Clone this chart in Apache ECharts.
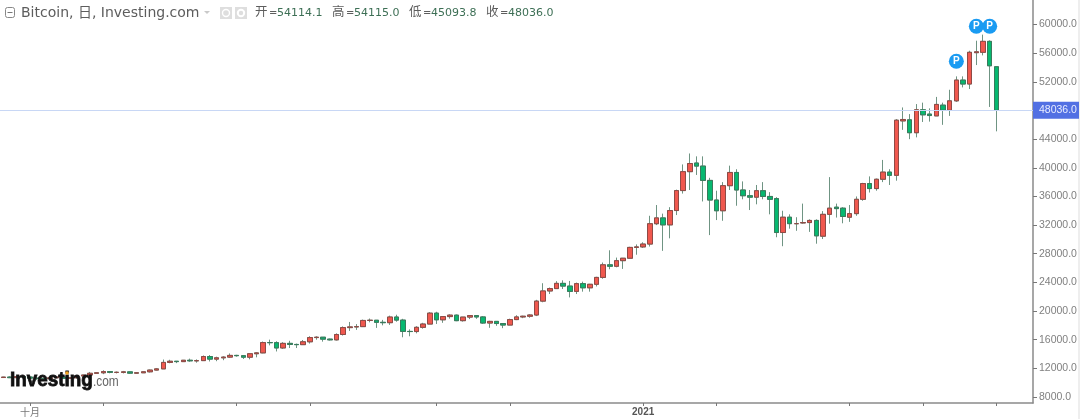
<!DOCTYPE html>
<html><head><meta charset="utf-8">
<style>html,body{margin:0;padding:0;background:#fff}#c{width:1080px;height:419px}</style>
<script src="https://cdn.jsdelivr.net/npm/echarts@6/dist/echarts.min.js"></script>
</head><body><div id="c"></div>
<script>
const categories=["09-27","09-28","09-29","09-30",
"10-01","10-02","10-03","10-04","10-05","10-06","10-07","10-08","10-09","10-10","10-11","10-12","10-13","10-14","10-15","10-16","10-17","10-18","10-19","10-20","10-21","10-22","10-23","10-24","10-25","10-26","10-27","10-28","10-29","10-30","10-31",
"11-01","11-02","11-03","11-04","11-05","11-06","11-07","11-08","11-09","11-10","11-11","11-12","11-13","11-14","11-15","11-16","11-17","11-18","11-19","11-20","11-21","11-22","11-23","11-24","11-25","11-26","11-27","11-28","11-29","11-30",
"12-01","12-02","12-03","12-04","12-05","12-06","12-07","12-08","12-09","12-10","12-11","12-12","12-13","12-14","12-15","12-16","12-17","12-18","12-19","12-20","12-21","12-22","12-23","12-24","12-25","12-26","12-27","12-28","12-29","12-30","12-31",
"01-01","01-02","01-03","01-04","01-05","01-06","01-07","01-08","01-09","01-10","01-11","01-12","01-13","01-14","01-15","01-16","01-17","01-18","01-19","01-20","01-21","01-22","01-23","01-24","01-25","01-26","01-27","01-28","01-29","01-30","01-31",
"02-01","02-02","02-03","02-04","02-05","02-06","02-07","02-08","02-09","02-10","02-11","02-12","02-13","02-14","02-15","02-16","02-17","02-18","02-19","02-20","02-21","02-22","02-23",
"02-24","02-25","02-26","02-27","02-28"];
const opens=[10710,10770,10690,10840,
10780,10620,10570,10550,10670,10790,10600,10670,10920,11060,11300,11370,11540,11430,11430,11500,11320,11370,11510,11750,11915,12820,12980,12930,13120,13040,13070,13640,13280,13460,13560,
13800,13760,13550,14030,14150,15590,15580,14840,15480,15330,15300,15700,16290,16340,16070,15970,16720,17680,17780,17820,18680,18710,18420,18370,19160,18730,17150,17130,17720,18180,
19700,18770,19220,19420,18650,19150,19360,19170,18320,18550,18250,18040,18800,19170,19270,19440,21380,22800,23130,23860,23480,22740,23820,23240,23730,24690,26450,26250,27030,27370,28880,
28950,29350,32190,33000,32030,34030,36820,39460,40670,40240,38240,35500,34000,37500,39350,36900,36100,35900,36800,36000,35700,30960,33100,32200,32300,32350,32650,30450,33500,34500,34360,
33100,33600,35600,37800,37100,38400,39400,38950,46550,46700,44900,48100,47500,47250,48750,48050,49350,52250,51700,56080,56130,57660,54114];
const closes=[10770,10690,10840,10780,
10620,10570,10550,10670,10790,10600,10670,10920,11060,11300,11370,11540,11430,11430,11500,11320,11370,11510,11750,11915,12820,12980,12930,13120,13040,13070,13640,13280,13460,13560,13800,
13760,13550,14030,14150,15590,15580,14840,15480,15330,15300,15700,16290,16340,16070,15970,16720,17680,17780,17820,18680,18710,18420,18370,19160,18730,17150,17130,17720,18180,19700,
18770,19220,19420,18650,19150,19360,19170,18320,18550,18250,18040,18800,19170,19270,19440,21380,22800,23130,23860,23480,22740,23820,23240,23730,24690,26450,26250,27030,27370,28880,28950,
29350,32190,33000,32030,34030,36820,39460,40600,40240,38240,35500,34000,37500,39350,36900,36100,35900,36800,36000,35600,30960,33100,32200,32200,32350,32650,30500,33500,34360,34300,33200,
33600,35600,37800,37100,38400,39400,38950,46650,46750,44900,48100,47400,47300,48850,48050,49350,52250,51700,56130,56200,57660,54250,48036];
const lows=[10640,10630,10640,10670,
10430,10370,10500,10540,10630,10530,10540,10530,10830,11050,11280,11180,11300,11280,11280,11220,11260,11340,11410,11700,11900,12700,12720,12900,12900,12780,13060,12950,12990,13130,13430,
13620,13300,13250,13530,14100,15200,14350,14700,14830,14830,15280,15450,15990,15720,15880,15880,16570,17220,17360,17760,18420,17640,18000,18060,18500,16330,16470,16880,17530,18180,
18190,18350,18930,18580,18520,18870,18910,18200,17650,17930,17600,18030,18730,19000,19060,19290,21220,22370,23070,23070,21900,22370,22700,22700,23430,24500,25830,26100,25880,27330,27860,
28800,29000,32000,28400,30150,33400,36400,36900,39000,35300,30600,32700,32600,36900,34700,35600,34100,34900,35600,33500,30300,29050,31500,31200,32200,31050,29400,30050,32200,33050,32250,
32450,33300,35400,36550,36800,38000,37600,38200,45300,44000,44250,46400,46450,47250,46000,47250,49200,51230,51000,54350,55700,48500,45093.8];
const highs=[10800,10880,10860,10850,
10920,10670,10600,10700,10800,10800,10690,10950,11100,11490,11400,11720,11550,11550,11630,11540,11400,11530,11820,12040,13220,13190,13020,13160,13350,13240,13790,13850,13620,13680,14070,
13880,13820,14070,14250,15740,16000,15770,15650,15840,15450,15950,16480,16480,16350,16150,16880,17850,18470,18170,18800,18950,18700,18760,19350,19480,18910,17440,17880,18350,19850,
19890,19300,19540,19510,19170,19420,19420,19290,18630,18560,18290,18930,19410,19340,19550,21560,23880,23280,24170,24280,24200,23970,24100,23790,24780,26770,28480,27460,27410,28970,29300,
29600,33300,34800,33600,34500,36950,40470,42000,41600,41600,38600,36800,38000,40300,39800,38100,36900,37600,38000,36600,35900,34000,33500,33100,35000,32800,32800,33950,38700,35000,34500,
34800,36000,37900,38800,38500,41100,39800,46800,48430,47500,48900,49100,48300,49900,49100,50900,52770,52770,56350,57750,58600,57800,54115];
const priceTicks=[60000,56000,52000,44000,40000,36000,32000,28000,24000,20000,16000,12000,8000];
const tickDates=["10-01","10-12","11-01","11-12","12-01","12-12","01-01","01-12","02-01","02-12","02-23"];
const namedLabels={"10-01":"十月","01-01":"2021"};
const lastPrice=48036;
const pinDates=["02-17","02-20","02-22"];
const pinPrices=[54880,59760,59760];
const headerValues=["54114.1","54115.0","45093.8","48036.0"];
const headerNames=["开","高","低","收"];

const ohlc=categories.slice(0,closes.length).map((c,i)=>[opens[i],closes[i],lows[i],highs[i]]);
const bodies=ohlc.map(d=>[d[0],d[1],Math.min(d[0],d[1]),Math.max(d[0],d[1])]);

const txt=(x,y,text,size,fill,extra)=>({type:'text',x,y,silent:true,z:50,style:Object.assign({text,fontSize:size,fill,fontFamily:'"DejaVu Sans","Noto Sans CJK SC"',textVerticalAlign:'middle'},extra||{})});
const hx=[255,332,409,486], vx=[277,354,431,508];
const header=[
 {type:'rect',shape:{x:5.5,y:7.5,width:9,height:10,r:2},style:{fill:'#fff',stroke:'#888',lineWidth:1},z:50},
 {type:'line',shape:{x1:7.5,y1:12.5,x2:12.5,y2:12.5},style:{stroke:'#777',lineWidth:1},z:50},
 txt(21,13,'Bitcoin, 日, Investing.com',14,'#5d5d5d'),
 {type:'polygon',shape:{points:[[204,11],[210,11],[207,14]]},style:{fill:'#c9c9c9'},z:50},
 {type:'rect',shape:{x:220,y:7,width:12,height:12},style:{fill:'#dedede'},z:50},
 {type:'circle',shape:{cx:226,cy:13,r:3.5},style:{fill:'#dedede',stroke:'#fff',lineWidth:1.4},z:51},
 {type:'rect',shape:{x:235,y:7,width:12,height:12},style:{fill:'#dedede'},z:50},
 {type:'circle',shape:{cx:241,cy:13,r:3.2},style:{fill:'#dedede',stroke:'#fff',lineWidth:2},z:51},
];
headerNames.forEach((n,i)=>{
 header.push(txt(hx[i],13,n,12.5,'#5d5d5d'));
 header.push(txt(hx[i]+14,13,'=',10,'#5d5d5d'));
 header.push(txt(vx[i],13,headerValues[i],11,'#3d6f55'));
});
const logo=[
 {type:'text',x:10,y:380,scaleX:0.92,z:60,silent:true,style:{text:'Investing',fontSize:20.5,fontWeight:'bold',fill:'#111',stroke:'#111',lineWidth:0.8,fontFamily:'"Liberation Sans"',textVerticalAlign:'middle'}},
 {type:'circle',shape:{cx:67,cy:373,r:1.8},style:{fill:'#f5a623'},z:61},
 {type:'text',x:93,y:382,scaleX:0.85,z:60,silent:true,style:{text:'.com',fontSize:14,fill:'#666',fontFamily:'"Liberation Sans"',textVerticalAlign:'middle'}},
 {type:'rect',shape:{x:1078,y:0,width:2,height:419},style:{fill:'#eeeeee'},z:1}
];

const chart=echarts.init(document.getElementById('c'),null,{renderer:'canvas'});
chart.setOption({
 animation:false,backgroundColor:'#fff',
 grid:{left:0,right:47,top:0,bottom:16},
 xAxis:{type:'category',data:categories,boundaryGap:true,
  axisLine:{lineStyle:{color:'#8a8a8a',width:1.5}},
  axisTick:{show:true,length:3,alignWithLabel:true,interval:(i,v)=>tickDates.includes(v),lineStyle:{color:'#777'}},
  axisLabel:{interval:(i,v)=>v in namedLabels,formatter:v=>v==='01-01'?'{b|'+namedLabels[v]+'}':'{n|'+(namedLabels[v]||'')+'}',margin:4,
   rich:{b:{fontSize:10,fontWeight:'bold',color:'#555',fontFamily:'"Liberation Sans"'},n:{fontSize:10,color:'#777',fontFamily:'"Noto Sans CJK SC"'}}},
  splitLine:{show:false}},
 yAxis:{type:'value',position:'right',min:7151,max:63436,splitLine:{show:false},
  axisLine:{show:true,lineStyle:{color:'#8a8a8a',width:1.5}},
  axisTick:{show:true,length:4,customValues:priceTicks,lineStyle:{color:'#777'}},
  axisLabel:{customValues:priceTicks,margin:6,padding:[2,0,0,0],fontSize:10.5,color:'#808080',fontFamily:'"Liberation Sans"',formatter:v=>v.toFixed(1)}},
 graphic:header.concat(logo),
 series:[
  {type:'candlestick',name:'wick',data:ohlc,barWidth:5,z:2,
   itemStyle:{color:'#6f9483',color0:'#6f9483',borderColor:'#6f9483',borderColor0:'#6f9483',borderWidth:1},
   markLine:{silent:true,symbol:'none',animation:false,
    data:[{yAxis:lastPrice}],
    lineStyle:{color:'#c8d7f5',type:'solid',width:1.2},
    label:{show:true,position:'end',distance:0,formatter:()=>lastPrice.toFixed(1),backgroundColor:'#5270e3',color:'#e8ecff',fontSize:10.5,fontFamily:'"Liberation Sans"',padding:[3,4,3,6],width:36,align:'left'}}},
  {type:'candlestick',name:'body',data:bodies,barWidth:5,z:3,
   itemStyle:{color:'#f0584e',color0:'#07b870',borderColor:'#8f4a46',borderColor0:'#3a7a5c',borderWidth:1},
   markPoint:{silent:true,animation:false,symbol:'circle',symbolSize:15,
    itemStyle:{color:'#1a9bf2'},
    label:{show:true,formatter:'P',color:'#fff',fontSize:10,fontWeight:'bold',fontFamily:'"Liberation Sans"'},
    data:pinDates.map((d,i)=>({coord:[d,pinPrices[i]]}))}}
 ]
});
</script></body></html>
